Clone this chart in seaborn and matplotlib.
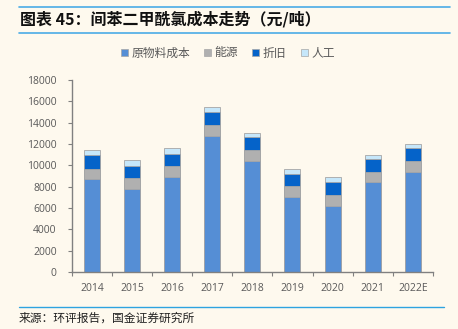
import matplotlib
matplotlib.use("Agg")
import matplotlib.pyplot as plt
from matplotlib.patches import Patch
from matplotlib.lines import Line2D
import seaborn as sns
import pandas as pd
import numpy as np

years = ["2014", "2015", "2016", "2017", "2018", "2019", "2020", "2021", "2022E"]
raw = [8700, 7800, 8900, 12750, 10400, 7050, 6200, 8420, 9370]
energy = [1000, 1000, 1000, 1000, 1030, 1000, 1060, 1000, 1000]
depreciation = [1250, 1150, 1190, 1220, 1220, 1180, 1190, 1190, 1220]
labor = [470, 510, 500, 470, 410, 410, 440, 400, 410]
series_names = ["原物料成本", "能源", "折旧", "人工"]
colors = ["#558ED5", "#B0B0B0", "#0563C9", "#C6E7FA"]
yticks = [0, 2000, 4000, 6000, 8000, 10000, 12000, 14000, 16000, 18000]

sns.set_theme(style="white")
plt.rcParams['font.family'] = ['Noto Sans CJK SC', 'DejaVu Sans']

bg = "#FEF9EE"
fig = plt.figure(figsize=(4.58, 3.29), dpi=100, facecolor=bg)
ax = fig.add_axes([0.157, 0.173, 0.788, 0.584], facecolor=bg)

df = pd.DataFrame({"year": years, "raw": raw, "energy": energy,
                   "dep": depreciation, "labor": labor})
layers = ["raw", "energy", "dep", "labor"]
cum = df[layers].cumsum(axis=1)
for i in reversed(range(4)):
    d = pd.DataFrame({"year": years, "val": cum[layers[i]]})
    sns.barplot(data=d, x="year", y="val", color=colors[i], width=0.4,
                saturation=1, edgecolor="#A6A6A6", linewidth=0.6, ax=ax)

ax.set_xlim(-0.5, 8.5)
ax.set_ylim(0, 18000)
ax.set_yticks(yticks)
ax.set_yticklabels([str(v) for v in yticks], fontsize=7.5, color="#595959",
                   family=['Open Sans', 'DejaVu Sans'])
ax.set_xticks(range(len(years)))
ax.set_xticklabels(years, fontsize=7.5, color="#595959",
                   family=['Open Sans', 'DejaVu Sans'])
ax.set_xticks(np.arange(-0.5, 9, 1), minor=True)
ax.tick_params(axis="x", which="major", length=0, pad=8)
ax.tick_params(axis="x", which="minor", length=3, width=0.8, color="#808080", direction="out", bottom=True)
ax.tick_params(axis="y", length=3, width=0.8, color="#808080", direction="out", left=True, pad=8)
ax.set_xlabel("")
ax.set_ylabel("")
for s in ["top", "right"]:
    ax.spines[s].set_visible(False)
for s in ["left", "bottom"]:
    ax.spines[s].set_color("#808080")
    ax.spines[s].set_linewidth(1.0)

# legend
handles = [Patch(facecolor=c, edgecolor="#A6A6A6", linewidth=0.5) for c in colors]
fig.legend(handles, series_names, loc="center", bbox_to_anchor=(0.497, 0.839),
           ncol=4, frameon=False, fontsize=8.5, labelcolor="#595959",
           handlelength=0.6, handleheight=0.6, handletextpad=0.3, columnspacing=1.2)

# title and decorative lines
fig.add_artist(Line2D([19/458, 450/458], [1-7/329, 1-7/329], color="#4BACE6", linewidth=1.2))
fig.add_artist(Line2D([19/458, 450/458], [1-33/329, 1-33/329], color="#4BACE6", linewidth=1.2))
fig.text(20/458, 1-19/329, "图表 45：间苯二甲酰氯成本走势（元/吨）", fontsize=11.5, fontweight="bold",
         style="italic", va="center", ha="left", color="#111111")
fig.add_artist(Line2D([19/458, 444/458], [1-307/329, 1-307/329], color="#2EA3E0", linewidth=1.0))
fig.text(19/458, 1-318/329, "来源：环评报告，国金证券研究所", fontsize=8.5, va="center", ha="left",
         color="#222222")

fig.savefig("out.png", dpi=100, facecolor=bg)
